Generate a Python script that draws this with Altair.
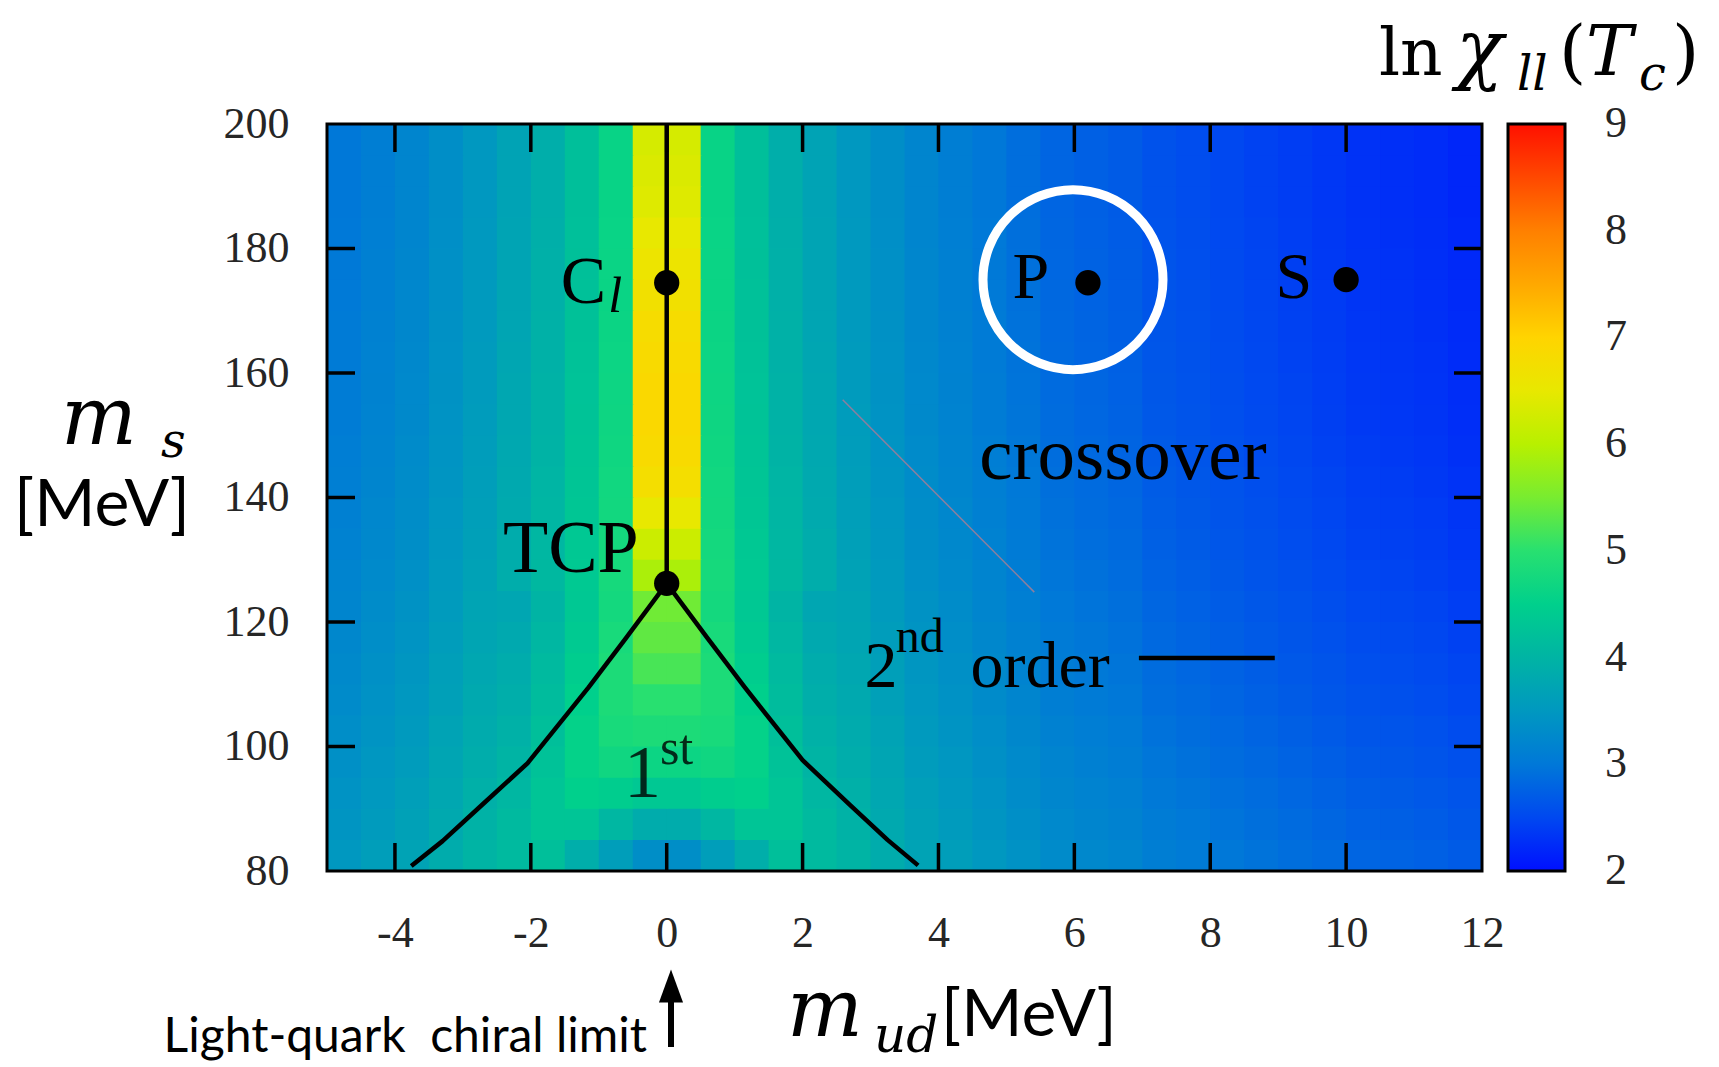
import altair as alt
import pandas as pd

# ---------------- data ----------------
# heat-map bins: m_ud (x) in 0.5 MeV columns, m_s (y) in 5 MeV rows
col_left = [-5.0 + 0.5 * i for i in range(34)]
row_bottom = [80 + 5 * j for j in range(24)]

# ln chi_ll(Tc) of every column in the upper (m_s > 125) part
top_profile = [3.0, 3.1, 3.2, 3.35, 3.5, 3.7, 3.9, 4.2, 4.6,
               6.3, 6.3,
               4.6, 4.2, 3.9, 3.7, 3.5, 3.35, 3.2, 3.1, 3.0,
               2.9, 2.8, 2.75, 2.7, 2.6, 2.55, 2.5, 2.45, 2.4, 2.35, 2.3, 2.28, 2.25, 2.2]
# slow increase towards small m_s (rows bottom -> top)
row_shift = [0.5, 0.46, 0.42, 0.38, 0.34, 0.3, 0.27, 0.24, 0.21, 0.18, 0.15, 0.13,
             0.11, 0.09, 0.07, 0.06, 0.05, 0.04, 0.03, 0.02, 0.01, 0.0, 0.0, 0.0]
# the two central columns (m_ud = -0.5..0.5) above the tricritical point
strip_rows = [125, 130, 135, 140, 145, 150, 155, 160, 165, 170, 175, 180, 185, 190, 195]
strip_vals = [5.9, 6.2, 6.5, 6.75, 6.85, 6.9, 6.9, 6.85, 6.8, 6.7, 6.6, 6.5, 6.4, 6.35, 6.3]
# central columns m_ud = -2.5 .. 2.5 in the first-order region
lower_rows = {
    80:  [4.1, 4.2, 3.9, 3.6, 3.35, 3.35, 3.6, 3.9, 4.2, 4.1],
    85:  [4.1, 4.3, 4.3, 4.05, 3.85, 3.85, 4.05, 4.3, 4.3, 4.1],
    90:  [4.05, 4.3, 4.5, 4.45, 4.35, 4.35, 4.45, 4.5, 4.3, 4.05],
    95:  [4.0, 4.25, 4.55, 4.7, 4.65, 4.65, 4.7, 4.55, 4.25, 4.0],
    100: [3.95, 4.2, 4.55, 4.8, 4.85, 4.85, 4.8, 4.55, 4.2, 3.95],
    105: [3.9, 4.15, 4.5, 4.85, 5.0, 5.0, 4.85, 4.5, 4.15, 3.9],
    110: [3.85, 4.1, 4.45, 4.85, 5.2, 5.2, 4.85, 4.45, 4.1, 3.85],
    115: [3.8, 4.05, 4.4, 4.8, 5.35, 5.35, 4.8, 4.4, 4.05, 3.8],
    120: [3.75, 4.0, 4.35, 4.75, 5.45, 5.45, 4.75, 4.35, 4.0, 3.75],
}

x_tick_vals = [-4, -2, 0, 2, 4, 6, 8, 10, 12]
y_tick_vals = [80, 100, 120, 140, 160, 180, 200]
cbar_vals = [2, 3, 4, 5, 6, 7, 8, 9]

# phase-boundary lines
chiral_x = [0.0, 0.0]
chiral_y = [126.2, 200.0]
left_x = [-3.76, -3.3, -2.7, -2.05, -1.15, -0.6, 0.0]
left_y = [80.8, 84.8, 90.8, 97.3, 109.5, 117.4, 126.2]
right_x = [0.0, 0.6, 1.15, 2.0, 2.7, 3.25, 3.7]
right_y = [126.2, 117.4, 109.5, 97.8, 90.6, 85.0, 80.9]
legend_line_x = [6.95, 8.95]
legend_line_y = [114.2, 114.2]
diag_x = [2.59, 5.41]
diag_y = [155.7, 124.8]

point_names = ["Cl", "TCP", "P", "S"]
point_x = [0.0, 0.0, 6.2, 10.0]
point_y = [174.5, 126.2, 174.5, 175.0]
highlight_x = [5.98]
highlight_y = [175.0]

cmap_domain = [2, 2.5, 3, 3.5, 4, 4.5, 5, 5.5, 6, 6.5, 7, 7.5, 8, 8.5, 9]
cmap_range = ["#0010ff", "#0048f0", "#0078d8", "#0098c0", "#00b4a4", "#00d08c",
              "#28e070", "#78ec30", "#b8f000", "#e8e800", "#ffd400", "#ffa800",
              "#ff8000", "#ff4800", "#ff1000"]

# ---------------- tables ----------------
recs = []
for j, yb in enumerate(row_bottom):
    for i, xl in enumerate(col_left):
        if yb in lower_rows and 5 <= i <= 14:
            v = lower_rows[yb][i - 5]
        elif i in (9, 10) and yb in strip_rows:
            v = strip_vals[strip_rows.index(yb)]
        else:
            v = top_profile[i] + row_shift[j]
        recs.append({"x0": xl, "x1": xl + 0.5, "y0": yb, "y1": yb + 5, "v": v})
heat_df = pd.DataFrame(recs)

line_recs = []
for name, xs_, ys_ in [("chiral", chiral_x, chiral_y), ("left", left_x, left_y),
                       ("right", right_x, right_y), ("legend", legend_line_x, legend_line_y)]:
    for k, (a, b) in enumerate(zip(xs_, ys_)):
        line_recs.append({"seg": name, "o": k, "x": a, "y": b})
line_df = pd.DataFrame(line_recs)

W, H = 1155, 747
PAD_L, PAD_T = 327, 124
SERIF = "Liberation Serif"
MATH = "DejaVu Serif"
SANS = "Lato"
Y_LO, Y_HI = 80, 200
C_LO, C_HI = 2, 9

xs = alt.Scale(domain=[-5, 12], nice=False, zero=False)
ys = alt.Scale(domain=[Y_LO, Y_HI], nice=False, zero=False)
cscale = alt.Scale(domain=cmap_domain, range=cmap_range, interpolate="rgb")

one = pd.DataFrame({"a": [0]})

# each cell is stretched by one pixel into its right/upper neighbour to hide seams
heat = alt.Chart(heat_df).mark_rect(x2Offset=1, y2Offset=-1).encode(
    x=alt.X("x0:Q", scale=xs, axis=alt.Axis(
        values=x_tick_vals, labelExpr="'' + datum.value", ticks=False, domain=False,
        grid=False, labelFont=SERIF, labelFontSize=44, labelColor="#262626",
        labelPadding=40, labelFlush=False, title=None)),
    x2="x1:Q",
    y=alt.Y("y0:Q", scale=ys, axis=alt.Axis(
        values=y_tick_vals, ticks=False, domain=False, grid=False, labelFont=SERIF,
        labelFontSize=44, labelColor="#262626", labelPadding=38, labelFlush=False,
        title=None)),
    y2="y1:Q",
    color=alt.Color("v:Q", scale=cscale, legend=alt.Legend(
        type="gradient", title=None, orient="none", legendX=1181, legendY=0,
        direction="vertical", gradientLength=H, gradientThickness=57,
        gradientStrokeColor="black", gradientStrokeWidth=3, values=cbar_vals,
        labelOpacity=0, labelFontSize=10, padding=0, offset=0, zindex=0)),
)

diag = alt.Chart(pd.DataFrame({"x": [diag_x[0]], "y": [diag_y[0]], "x2": [diag_x[1]], "y2": [diag_y[1]]})).mark_rule(
    color="#8c7f9e", strokeWidth=1.5).encode(
    x=alt.X("x:Q", scale=xs), y=alt.Y("y:Q", scale=ys), x2="x2:Q", y2="y2:Q")

lines = alt.Chart(line_df).mark_line(color="black", strokeWidth=4.5, strokeJoin="round").encode(
    x=alt.X("x:Q", scale=xs), y=alt.Y("y:Q", scale=ys),
    detail="seg:N", order="o:Q")

dots = alt.Chart(pd.DataFrame({"n": point_names, "x": point_x, "y": point_y})).mark_circle(
    color="black", size=640, opacity=1).encode(
    x=alt.X("x:Q", scale=xs), y=alt.Y("y:Q", scale=ys))

ring = alt.Chart(pd.DataFrame({"x": highlight_x, "y": highlight_y})).mark_point(
    shape="circle", size=32400, filled=False, stroke="white", strokeWidth=9, opacity=1).encode(
    x=alt.X("x:Q", scale=xs), y=alt.Y("y:Q", scale=ys))


def dtxt(label, x, y, size, italic=False, font=SERIF, opacity=1.0):
    return alt.Chart(pd.DataFrame({"t": [label], "x": [x], "y": [y]})).mark_text(
        font=font, fontSize=size, fontStyle="italic" if italic else "normal",
        align="left", baseline="alphabetic", color="black", opacity=opacity).encode(
        x=alt.X("x:Q", scale=xs), y=alt.Y("y:Q", scale=ys), text="t:N")


def ptxt(label, x, y, size, font=SERIF, italic=False, align="left", color="black"):
    return alt.Chart(one).mark_text(
        text=label, font=font, fontSize=size, fontStyle="italic" if italic else "normal",
        align=align, baseline="alphabetic", color=color).encode(
        x=alt.value(x), y=alt.value(y))


annotations = [
    dtxt("C", -1.56, 171.3, 68),
    dtxt("l", -0.86, 169.8, 50, italic=True),
    dtxt("TCP", -2.41, 128.0, 74),
    dtxt("P", 5.09, 172.0, 66),
    dtxt("S", 8.96, 172.0, 66),
    dtxt("crossover", 4.6, 143.0, 75),
    dtxt("2", 2.91, 109.5, 66),
    dtxt("nd", 3.37, 115.2, 48),
    dtxt("order", 4.47, 109.5, 66),
    dtxt("1", -0.63, 91.9, 74, opacity=0.8),
    dtxt("st", -0.1, 97.2, 50, opacity=0.8),
]

# axis ticks pointing inwards on all four sides
xt = pd.DataFrame({"t": x_tick_vals[:-1]})
yt = pd.DataFrame({"t": y_tick_vals[1:-1]})
TL = 28
tick_layers = [
    alt.Chart(xt).mark_rule(color="black", strokeWidth=3.5).encode(
        x=alt.X("t:Q", scale=xs), y=alt.value(H), y2=alt.value(H - TL)),
    alt.Chart(xt).mark_rule(color="black", strokeWidth=3.5).encode(
        x=alt.X("t:Q", scale=xs), y=alt.value(0), y2=alt.value(TL)),
    alt.Chart(yt).mark_rule(color="black", strokeWidth=3.5).encode(
        y=alt.Y("t:Q", scale=ys), x=alt.value(0), x2=alt.value(TL)),
    alt.Chart(yt).mark_rule(color="black", strokeWidth=3.5).encode(
        y=alt.Y("t:Q", scale=ys), x=alt.value(W), x2=alt.value(W - TL)),
]

# colour-bar ticks and labels: the bar spans the same height as the m_s axis
cb_expr = f"{Y_LO} + (datum.v - {C_LO}) * {Y_HI - Y_LO} / {C_HI - C_LO}"
cb_in = pd.DataFrame({"v": cbar_vals[1:-1]})
cb_all = pd.DataFrame({"v": cbar_vals})
cb_left = alt.Chart(cb_in).transform_calculate(ym=cb_expr).mark_rule(
    color="black", strokeWidth=3).encode(
    y=alt.Y("ym:Q", scale=ys), x=alt.value(1182), x2=alt.value(1205))
cb_right = alt.Chart(cb_in).transform_calculate(ym=cb_expr).mark_rule(
    color="black", strokeWidth=3).encode(
    y=alt.Y("ym:Q", scale=ys), x=alt.value(1217), x2=alt.value(1238))
cb_labels = alt.Chart(cb_all).transform_calculate(
    ym=cb_expr, lab="'' + datum.v").mark_text(
    font=SERIF, fontSize=44, color="#262626", align="left", baseline="middle").encode(
    y=alt.Y("ym:Q", scale=ys), x=alt.value(1278), text="lab:N")

frame = alt.Chart(one).mark_rect(filled=False, stroke="black", strokeWidth=3).encode(
    x=alt.value(0), x2=alt.value(W), y=alt.value(0), y2=alt.value(H))

# titles outside the plot (pixel offsets relative to the plot origin)
outer = [
    ptxt("m", -228, 320, 80, font=MATH, italic=True, align="center"),
    ptxt("s", -166, 333, 48, font=MATH, italic=True),
    ptxt("[MeV]", -225, 402, 66, font=SANS, align="center"),
    ptxt("m", 498, 912, 80, font=MATH, italic=True, align="center"),
    ptxt("ud", 547, 928, 50, font=MATH, italic=True),
    ptxt("[MeV]", 614, 912, 66, font=SANS),
    ptxt("Light-quark\u00a0 chiral limit", 320, 928, 48, font=SANS, align="right"),
    ptxt("ln", 1052, -49, 66, font=MATH),
    ptxt("χ", 1129, -49, 78, font=MATH, italic=True),
    ptxt("ll", 1190, -34, 48, font=MATH, italic=True),
    ptxt("(", 1232, -49, 70, font=MATH),
    ptxt("T", 1259, -49, 70, font=MATH, italic=True),
    ptxt("c", 1312, -34, 48, font=MATH, italic=True),
    ptxt(")", 1345, -49, 70, font=MATH),
]

arrow_shaft = alt.Chart(one).mark_rule(color="black", strokeWidth=6).encode(
    x=alt.value(344), y=alt.value(872), y2=alt.value(923))
arrow_head = alt.Chart(one).mark_point(
    shape="M0,-1L0.73,1L-0.73,1Z", size=1089, filled=True, color="black", opacity=1).encode(
    x=alt.value(344), y=alt.value(862))

chart = alt.layer(heat, diag, lines, dots, ring, *annotations, *tick_layers, cb_left, cb_right,
                  cb_labels, frame, *outer, arrow_shaft, arrow_head).properties(
    width=W, height=H,
    autosize=alt.AutoSizeParams(type="none"),
    padding={"left": PAD_L, "top": PAD_T, "right": 1719 - PAD_L - W, "bottom": 1067 - PAD_T - H},
    background="white",
).configure_view(strokeWidth=0)

chart.save("out.html", embed_options={"renderer": "svg", "actions": False})
